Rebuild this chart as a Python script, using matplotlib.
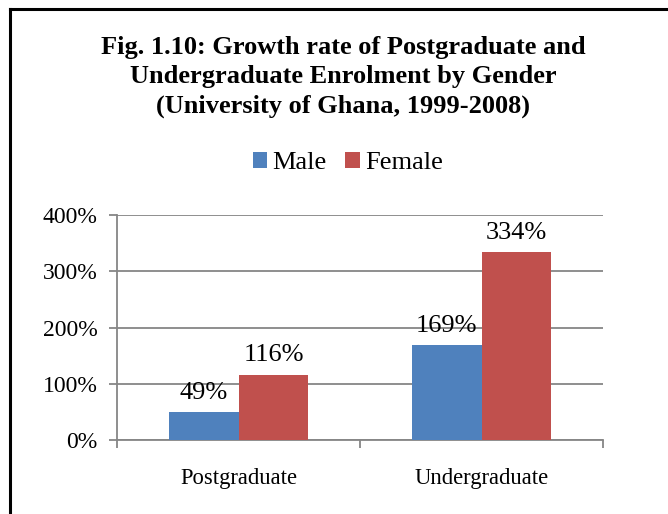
import numpy as np
import matplotlib.pyplot as plt
from matplotlib.lines import Line2D

categories = ["Postgraduate", "Undergraduate"]
male = [49, 169]
female = [116, 334]
series_names = ["Male", "Female"]
yticks = [0, 100, 200, 300, 400]

blue = "#4F81BD"
red = "#C0504D"
grey = "#868686"

plt.rcParams["font.family"] = ["Liberation Serif", "DejaVu Serif"]

fig = plt.figure(figsize=(6.68, 5.14), dpi=100)
ax = fig.add_axes([117 / 668, 74 / 514, 486 / 668, 225 / 514])

x = np.arange(len(categories))
w = 0.288
b1 = ax.bar(x - w / 2, male, w, color=blue, label=series_names[0], zorder=3)
b2 = ax.bar(x + w / 2, female, w, color=red, label=series_names[1], zorder=3)

# value labels above bars
for bars, vals in ((b1, male), (b2, female)):
    for rect, v in zip(bars, vals):
        ax.annotate(f"{v}%", (rect.get_x() + rect.get_width() / 2, v),
                    xytext=(0, 6), textcoords="offset points",
                    ha="center", va="bottom", fontsize=19)

ax.set_ylim(0, 400)
ax.set_xlim(-0.5, 1.5)
ax.set_yticks(yticks)
ax.set_yticklabels([f"{t}%" for t in yticks], fontsize=17)
ax.yaxis.grid(True, color=grey, linewidth=1.3, zorder=0)

ax.set_xticks([-0.5, 0.5, 1.5])
ax.set_xticklabels([])
ax.set_xticks(x, minor=True)
ax.set_xticklabels(categories, minor=True, fontsize=16.3)
ax.tick_params(axis="x", which="minor", length=0, pad=20)
ax.tick_params(axis="x", which="major", length=6, width=1.3, color=grey)
ax.tick_params(axis="y", length=6, width=1.3, color=grey, pad=8)

for s in ("top", "right"):
    ax.spines[s].set_visible(False)
for s in ("left", "bottom"):
    ax.spines[s].set_color(grey)
    ax.spines[s].set_linewidth(1.3)

fig.text(343 / 668, 1 - 77 / 514,
         "Fig. 1.10: Growth rate of Postgraduate and\nUndergraduate Enrolment by Gender\n(University of Ghana, 1999-2008)",
         ha="center", va="center", fontsize=19, fontweight="bold", linespacing=1.33)

fig.legend(loc="center", bbox_to_anchor=(348 / 668, 1 - 163 / 514), ncol=2,
           frameon=False, fontsize=19, handlelength=0.55, handleheight=0.55,
           handletextpad=0.2, columnspacing=0.7)

# partial outer frame (left and top edges)
fig.add_artist(Line2D([9.5 / 668, 9.5 / 668], [0, 1 - 9 / 514], color="black", linewidth=2.2))
fig.add_artist(Line2D([9.5 / 668, 1], [1 - 9 / 514, 1 - 9 / 514], color="black", linewidth=2.2))

fig.savefig("out.png", dpi=100)
